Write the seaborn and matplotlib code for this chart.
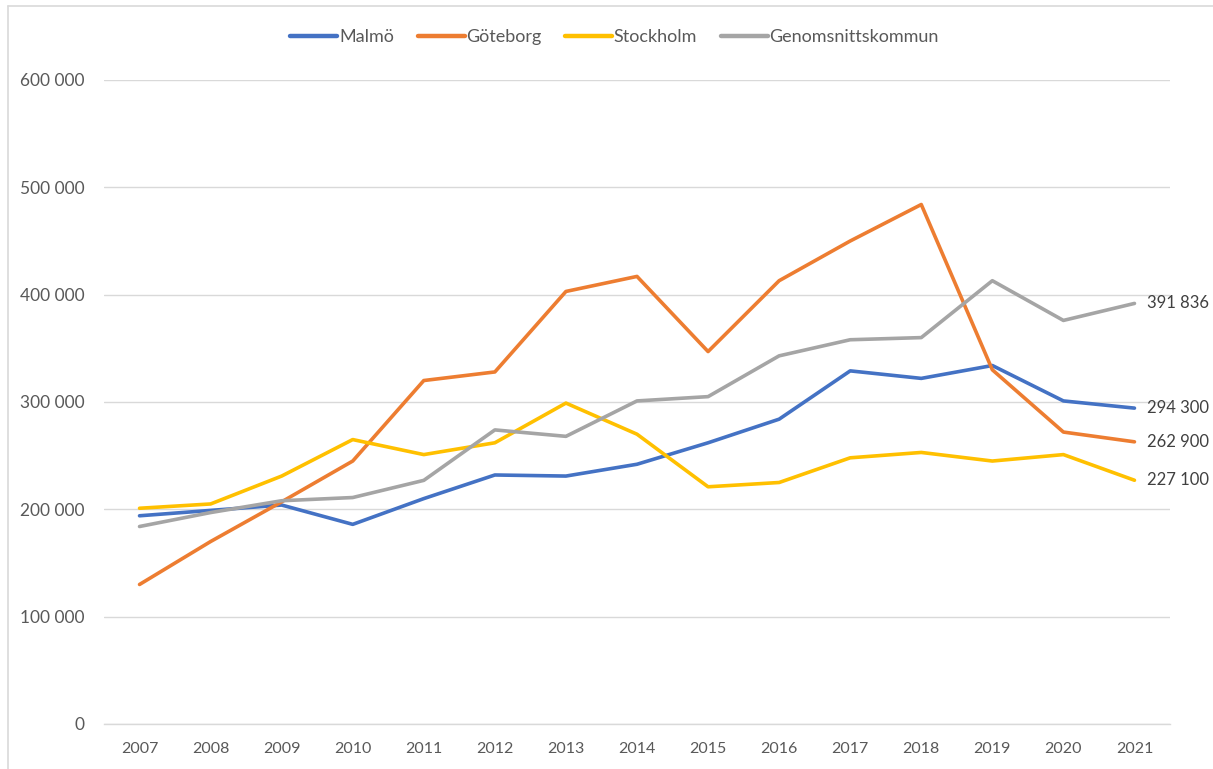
import matplotlib
matplotlib.use("Agg")
import matplotlib.pyplot as plt
import seaborn as sns
import pandas as pd
from matplotlib.lines import Line2D

years = list(range(2007, 2022))
series_names = ["Malmö", "Göteborg", "Stockholm", "Genomsnittskommun"]
malmo = [194000, 199000, 204000, 186000, 210000, 232000, 231000, 242000, 262000, 284000, 329000, 322000, 334000, 301000, 294300]
goteborg = [130000, 170000, 207000, 245000, 320000, 328000, 403000, 417000, 347000, 413000, 450000, 484000, 330000, 272000, 262900]
stockholm = [201000, 205000, 231000, 265000, 251000, 262000, 299000, 270000, 221000, 225000, 248000, 253000, 245000, 251000, 227100]
genomsnitt = [184000, 197000, 208000, 211000, 227000, 274000, 268000, 301000, 305000, 343000, 358000, 360000, 413000, 376000, 391836]
end_labels = ["294 300", "262 900", "227 100", "391 836"]
y_ticks = [0, 100000, 200000, 300000, 400000, 500000, 600000]
y_tick_labels = ["0", "100 000", "200 000", "300 000", "400 000", "500 000", "600 000"]
colors = ["#4472C4", "#ED7D31", "#FFC000", "#A5A5A5"]

values = [malmo, goteborg, stockholm, genomsnitt]
rows = []
for name, vals in zip(series_names, values):
    for yr, v in zip(years, vals):
        rows.append({"year": yr, "value": v, "series": name})
df = pd.DataFrame(rows)

sns.set_theme(style="white")
plt.rcParams["font.family"] = ["Lato", "DejaVu Sans"]

fig = plt.figure(figsize=(12.13, 7.69), dpi=100)
ax = fig.add_axes([104 / 1213, 45 / 769, (1170 - 104) / 1213, (724 - 80) / 769])

sns.lineplot(data=df, x="year", y="value", hue="series", hue_order=series_names,
             palette=colors, linewidth=2.6, ax=ax, legend=True)

ax.set_xlim(2006.5, 2021.5)
ax.set_ylim(0, 600000)
ax.set_xticks(years)
ax.set_xticklabels([str(y) for y in years], fontsize=11.5, color="#595959")
ax.set_yticks(y_ticks)
ax.set_yticklabels(y_tick_labels, fontsize=12.5, color="#595959")
ax.tick_params(axis="x", length=0, pad=13)
ax.tick_params(axis="y", length=0, pad=14)
ax.set_xlabel("")
ax.set_ylabel("")
ax.grid(axis="y", color="#D9D9D9", linewidth=1.0)
ax.set_axisbelow(True)
for s in ["top", "right", "left"]:
    ax.spines[s].set_visible(False)
ax.spines["bottom"].set_color("#D9D9D9")
ax.spines["bottom"].set_linewidth(1.0)

for vals, lab in zip(values, end_labels):
    ax.annotate(lab, xy=(years[-1], vals[-1]), xytext=(9, 0), textcoords="offset points",
                va="center", ha="left", fontsize=12, color="#404040", annotation_clip=False)

leg = ax.legend(loc="center", bbox_to_anchor=(0.479, 1.067), ncol=4, frameon=False,
                fontsize=13, handlelength=2.6, columnspacing=1.3, handletextpad=0.1,
                labelcolor="#595959")
for line in leg.get_lines():
    line.set_linewidth(3.2)

fig.lines.append(Line2D([8 / 1213, 8 / 1213], [0, 1 - 6 / 769], transform=fig.transFigure,
                        color="#D9D9D9", linewidth=1.2))
fig.lines.append(Line2D([8 / 1213, 1], [1 - 6 / 769, 1 - 6 / 769], transform=fig.transFigure,
                        color="#D9D9D9", linewidth=1.2))

fig.savefig("out.png", dpi=100)
